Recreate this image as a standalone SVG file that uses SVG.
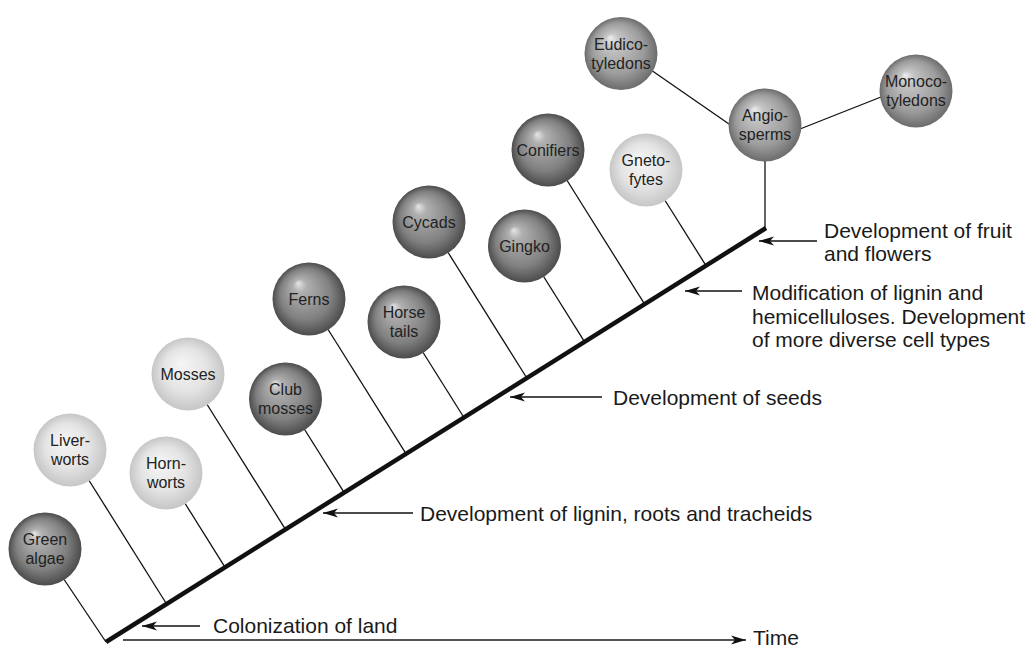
<svg xmlns="http://www.w3.org/2000/svg" width="1032" height="649" viewBox="0 0 1032 649">
<style>
.lbl{font-family:"Liberation Sans",Arial,sans-serif;font-size:16px;fill:#222;text-anchor:middle}
.ann{font-family:"Liberation Sans",Arial,sans-serif;font-size:21px;fill:#1a1a1a}
.con{stroke:#111;stroke-width:1.3;fill:none}
.arr{stroke:#111;stroke-width:1.3;fill:none;marker-end:url(#ah)}
</style>
<defs>
<radialGradient id="gDark" cx="50%" cy="50%" r="50%" fx="35%" fy="28%">
<stop offset="0" stop-color="#e6e6e6"/>
<stop offset="0.18" stop-color="#b0b0b0"/>
<stop offset="0.7" stop-color="#808080"/>
<stop offset="1" stop-color="#4c4c4c"/>
</radialGradient>
<radialGradient id="gMed" cx="50%" cy="50%" r="50%" fx="35%" fy="28%">
<stop offset="0" stop-color="#ececec"/>
<stop offset="0.2" stop-color="#c4c4c4"/>
<stop offset="0.7" stop-color="#9c9c9c"/>
<stop offset="1" stop-color="#6c6c6c"/>
</radialGradient>
<radialGradient id="gLight" cx="50%" cy="50%" r="50%" fx="40%" fy="35%">
<stop offset="0" stop-color="#f6f6f6"/>
<stop offset="0.6" stop-color="#e4e4e4"/>
<stop offset="1" stop-color="#c6c6c6"/>
</radialGradient>
<marker id="ah" markerWidth="16" markerHeight="12" refX="15" refY="6" orient="auto" markerUnits="userSpaceOnUse">
<path d="M0,1.5 L15,6 L0,10.5 L4,6 Z" fill="#111"/>
</marker>
</defs>

<g id="connectors">
<line x1="106" y1="642" x2="766" y2="228" stroke="#111" stroke-width="4.5" stroke-linecap="butt"/>
<line class="con" x1="64.1" y1="579.5" x2="106" y2="642"/>
<line class="con" x1="89.1" y1="480.5" x2="166.6" y2="604"/>
<line class="con" x1="185.1" y1="503.5" x2="225.1" y2="567.3"/>
<line class="con" x1="207.1" y1="404.5" x2="285.5" y2="529.4"/>
<line class="con" x1="304.6" y1="429.5" x2="344.2" y2="492.6"/>
<line class="con" x1="328.1" y1="329.5" x2="406.1" y2="453.8"/>
<line class="con" x1="423.1" y1="352.5" x2="463.9" y2="417.5"/>
<line class="con" x1="448.1" y1="252.5" x2="526.8" y2="378"/>
<line class="con" x1="543.6" y1="276.5" x2="584.6" y2="341.8"/>
<line class="con" x1="567.1" y1="180.5" x2="644.6" y2="304.1"/>
<line class="con" x1="665.1" y1="200.5" x2="706" y2="265.6"/>
<line class="con" x1="765" y1="161" x2="765" y2="229"/>
<line class="con" x1="651" y1="70" x2="729" y2="124"/>
<line class="con" x1="800" y1="129" x2="881" y2="97"/>
<line x1="123" y1="640" x2="746" y2="640" stroke="#555" stroke-width="2" marker-end="url(#ah)"/>
<line class="arr" x1="200" y1="626" x2="142" y2="626"/>
<line class="arr" x1="413" y1="513" x2="323" y2="513"/>
<line class="arr" x1="602" y1="397" x2="510" y2="397"/>
<line class="arr" x1="742" y1="291" x2="685" y2="291"/>
<line class="arr" x1="817" y1="241" x2="759" y2="241"/>
</g>

<g id="green-algae"><circle cx="45" cy="549" r="36.5" fill="url(#gDark)"/><text class="lbl" x="45" y="545">Green</text><text class="lbl" x="45" y="564">algae</text></g>
<g id="liverworts"><circle cx="70" cy="450" r="36.5" fill="url(#gLight)"/><text class="lbl" x="70" y="446">Liver-</text><text class="lbl" x="70" y="465">worts</text></g>
<g id="hornworts"><circle cx="166" cy="473" r="36.5" fill="url(#gLight)"/><text class="lbl" x="166" y="469">Horn-</text><text class="lbl" x="166" y="488">worts</text></g>
<g id="mosses"><circle cx="188" cy="374" r="36.5" fill="url(#gLight)"/><text class="lbl" x="188" y="380">Mosses</text></g>
<g id="club-mosses"><circle cx="285.5" cy="399" r="36.5" fill="url(#gDark)"/><text class="lbl" x="285.5" y="395">Club</text><text class="lbl" x="285.5" y="414">mosses</text></g>
<g id="ferns"><circle cx="309" cy="299" r="36.5" fill="url(#gDark)"/><text class="lbl" x="309" y="305">Ferns</text></g>
<g id="horse-tails"><circle cx="404" cy="322" r="36.5" fill="url(#gDark)"/><text class="lbl" x="404" y="318">Horse</text><text class="lbl" x="404" y="337">tails</text></g>
<g id="cycads"><circle cx="429" cy="222" r="36.5" fill="url(#gDark)"/><text class="lbl" x="429" y="228">Cycads</text></g>
<g id="gingko"><circle cx="524.5" cy="246" r="36.5" fill="url(#gDark)"/><text class="lbl" x="524.5" y="252">Gingko</text></g>
<g id="conifiers"><circle cx="548" cy="150" r="36.5" fill="url(#gDark)"/><text class="lbl" x="548" y="156">Conifiers</text></g>
<g id="gnetofytes"><circle cx="646" cy="170" r="36.5" fill="url(#gLight)"/><text class="lbl" x="646" y="166">Gneto-</text><text class="lbl" x="646" y="185">fytes</text></g>
<g id="angiosperms"><circle cx="765" cy="125" r="36.5" fill="url(#gMed)"/><text class="lbl" x="765" y="121">Angio-</text><text class="lbl" x="765" y="140">sperms</text></g>
<g id="eudicotyledons"><circle cx="621" cy="53.5" r="36.5" fill="url(#gMed)"/><text class="lbl" x="621" y="49.5">Eudico-</text><text class="lbl" x="621" y="68.5">tyledons</text></g>
<g id="monocotyledons"><circle cx="916" cy="91" r="36.5" fill="url(#gMed)"/><text class="lbl" x="916" y="87">Monoco-</text><text class="lbl" x="916" y="106">tyledons</text></g>

<g id="annotations">
<text class="ann" x="213" y="633">Colonization of land</text>
<text class="ann" x="420" y="521">Development of lignin, roots and tracheids</text>
<text class="ann" x="613" y="405">Development of seeds</text>
<text class="ann" x="752" y="300">Modification of lignin and</text>
<text class="ann" x="752" y="323.5">hemicelluloses. Development</text>
<text class="ann" x="752" y="347">of more diverse cell types</text>
<text class="ann" x="824" y="238">Development of fruit</text>
<text class="ann" x="824" y="261">and flowers</text>
<text class="ann" x="753" y="645" font-size="20">Time</text>
</g>
</svg>
